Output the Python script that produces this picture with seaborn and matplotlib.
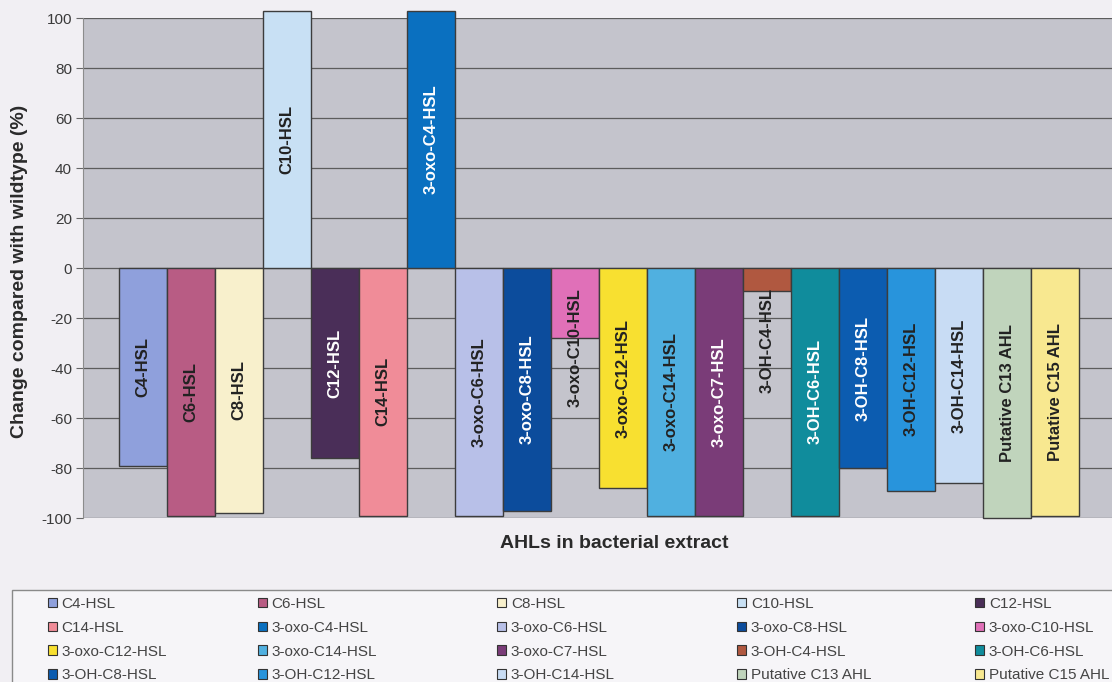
import pandas as pd
import matplotlib.pyplot as plt
import seaborn as sns
from matplotlib.patches import Rectangle, Patch

# Daten
ahl_names = ['C4-HSL', 'C6-HSL', 'C8-HSL', 'C10-HSL', 'C12-HSL',
             'C14-HSL', '3-oxo-C4-HSL', '3-oxo-C6-HSL', '3-oxo-C8-HSL', '3-oxo-C10-HSL',
             '3-oxo-C12-HSL', '3-oxo-C14-HSL', '3-oxo-C7-HSL', '3-OH-C4-HSL', '3-OH-C6-HSL',
             '3-OH-C8-HSL', '3-OH-C12-HSL', '3-OH-C14-HSL', 'Putative C13 AHL', 'Putative C15 AHL']
change_pct = [-79, -99, -98, 103, -76,
              -99, 103, -99, -97, -28,
              -88, -99, -99, -9, -99,
              -80, -89, -86, -100, -99]
bar_colors = ['#8fa0dc', '#b85c84', '#f8f0cc', '#c8e0f4', '#4a2e58',
              '#f08c98', '#0a70c0', '#b8c0e8', '#0c4c9c', '#e070b8',
              '#f8e030', '#50b0e0', '#7a3c78', '#b05840', '#108c9c',
              '#0c5cb0', '#2894dc', '#c8dcf4', '#c0d4bc', '#f8e890']
white_labels = ['C12-HSL', '3-oxo-C4-HSL', '3-oxo-C8-HSL', '3-oxo-C7-HSL',
                '3-OH-C6-HSL', '3-OH-C8-HSL']
y_ticks = list(range(-100, 101, 20))

df = pd.DataFrame({'AHL': ahl_names, 'Change': change_pct})

sns.set_theme(style='white')
plt.rcParams['font.family'] = ['Liberation Sans', 'DejaVu Sans']
plt.rcParams['axes.unicode_minus'] = False

W, H = 1112, 682
fig = plt.figure(figsize=(W / 100, H / 100), dpi=100, facecolor='#f1eff3')
ax = fig.add_axes([83 / W, 1 - 518 / H, 1032 / W, 500 / H])
ax.set_facecolor('#c4c4cc')

sns.barplot(data=df, x='AHL', y='Change', hue='AHL', order=ahl_names, hue_order=ahl_names,
            palette=dict(zip(ahl_names, bar_colors)), width=1.0, saturation=1,
            edgecolor='#3c3c3c', linewidth=1, legend=True, ax=ax)

for p in ax.patches:
    p.set_clip_on(False)

ax.set_ylim(-100, 100)
ax.set_xlim(-1.25, 20.25)
ax.set_yticks(y_ticks)
ax.set_xticks([])
ax.set_xlabel('')
ax.set_ylabel('')
ax.yaxis.grid(True, color='#5c5c5c', linewidth=0.9)
ax.set_axisbelow(True)
for s in ['top', 'right', 'bottom']:
    ax.spines[s].set_visible(False)
ax.spines['left'].set_color('#8c8c8c')
ax.spines['left'].set_linewidth(0.8)
ax.tick_params(axis='y', direction='out', length=5, width=0.8, color='#666666',
               labelsize=11, labelcolor='#3a3a3a', pad=3, left=True)

# Beschriftungen in den Balken
for i, (name, v) in enumerate(zip(ahl_names, change_pct)):
    col = 'white' if name in white_labels else '#222222'
    if abs(v) > 50:
        ax.text(i, v / 2, name, rotation=90, ha='center', va='center',
                fontsize=12, fontweight='bold', color=col)
    else:
        ax.text(i, -8, name, rotation=90, ha='center', va='top',
                fontsize=12, fontweight='bold', color=col)

fig.text(20 / W, 1 - 271 / H, 'Change compared with wildtype (%)', rotation=90,
         ha='center', va='center', fontsize=14, fontweight='bold', color='#2a2a2a')
fig.text(614 / W, 1 - 543 / H, 'AHLs in bacterial extract',
         ha='center', va='center', fontsize=14, fontweight='bold', color='#2a2a2a')

# Legende
handles, labels = ax.get_legend_handles_labels()
if ax.get_legend() is not None:
    ax.get_legend().remove()
if len(handles) != len(ahl_names):
    handles = [Patch(facecolor=c) for c in bar_colors]
    labels = ahl_names
for h in handles:
    h.set_edgecolor('#333333')
    h.set_linewidth(0.8)

fig.add_artist(Rectangle((12 / W, -0.05), 1.2, (H - 590) / H + 0.05,
                         transform=fig.transFigure, facecolor='#f6f5f8',
                         edgecolor='#8a8a8a', linewidth=1, zorder=0))

col_x = [48, 258, 497, 737, 975]
for c in range(5):
    idx = [c + 5 * r for r in range(4)]
    leg = fig.legend([handles[k] for k in idx], [labels[k] for k in idx],
                     loc='upper left', bbox_to_anchor=(col_x[c] / W, 1 - 597 / H),
                     frameon=False, fontsize=11, handlelength=0.6, handleheight=0.6,
                     handletextpad=0.3, labelspacing=0.64, borderpad=0, borderaxespad=0)
    for t in leg.get_texts():
        t.set_color('#444444')

fig.savefig('out.png', dpi=100, facecolor=fig.get_facecolor())
plt.close()
